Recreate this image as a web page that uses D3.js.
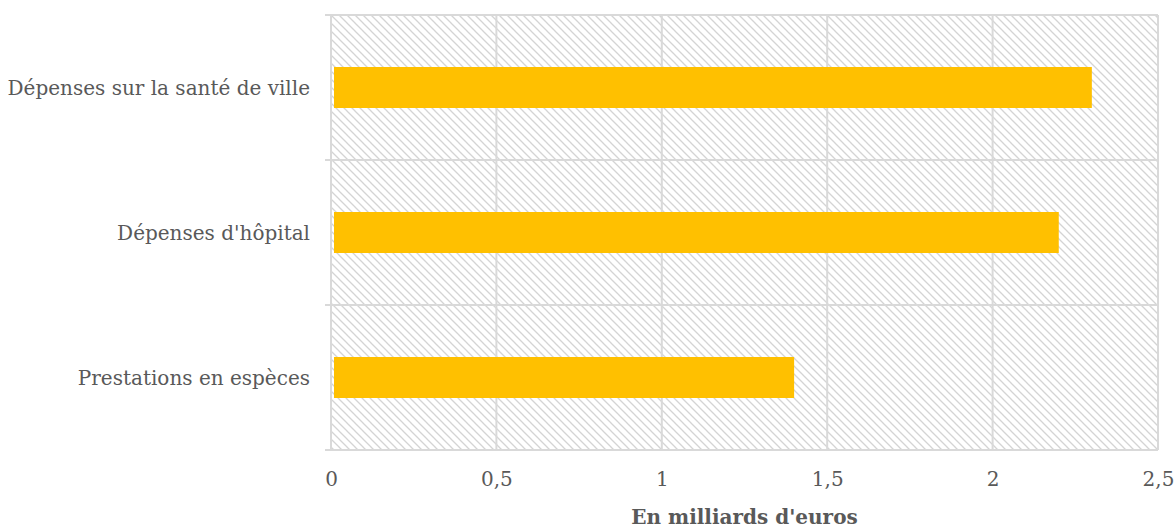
<!DOCTYPE html>
<html>
<head>
<meta charset="utf-8">
<script src="https://cdn.jsdelivr.net/npm/d3@7"></script>
<style>
  html, body { margin: 0; padding: 0; background: #fff; }
  svg { display: block; }
  text { font-family: "DejaVu Serif", "Liberation Serif", serif; }
</style>
</head>
<body>
<svg id="chart" width="1176" height="528"></svg>
<script>
// Dépenses par poste, en milliards d'euros
const categories = ["Dépenses sur la santé de ville", "Dépenses d'hôpital", "Prestations en espèces"];
const values = [2.3, 2.2, 1.4];
const xTicks = [0, 0.5, 1, 1.5, 2, 2.5];
const xTitle = "En milliards d'euros";

const svg = d3.select("#chart");
const margin = { top: 15, right: 18, bottom: 78, left: 331 };
const W = 1176, H = 528;
const iw = W - margin.left - margin.right;
const ih = H - margin.top - margin.bottom;

const fmt = d => String(d).replace(".", ",");
const fontFam = '"DejaVu Serif", "Liberation Serif", serif';

// Hatched plot background
const defs = svg.append("defs");
const pat = defs.append("pattern")
  .attr("id", "hatch")
  .attr("patternUnits", "userSpaceOnUse")
  .attr("width", 8).attr("height", 8);
pat.append("rect").attr("width", 8).attr("height", 8).attr("fill", "#fff");
pat.append("path")
  .attr("d", "M-2,-2 L10,10 M-2,6 L2,10 M6,-2 L10,2")
  .attr("stroke", "#d4d4d4").attr("stroke-width", 1.3);

const g = svg.append("g").attr("transform", `translate(${margin.left},${margin.top})`);

const x = d3.scaleLinear().domain([0, 2.5]).range([0, iw]);
const y = d3.scaleBand().domain(categories).range([0, ih]).paddingInner(0).paddingOuter(0);

g.append("rect").attr("width", iw).attr("height", ih).attr("fill", "url(#hatch)");

const gridColor = "#d9d9d9";

// Vertical gridlines
g.append("g").selectAll("line").data(xTicks).join("line")
  .attr("x1", d => x(d)).attr("x2", d => x(d))
  .attr("y1", 0).attr("y2", ih)
  .attr("stroke", gridColor).attr("stroke-width", 2);

// Category separators, extended outward as ticks
const bounds = categories.map(c => y(c)).concat([ih]);
g.append("g").selectAll("line").data(bounds).join("line")
  .attr("x1", -6).attr("x2", iw)
  .attr("y1", d => d).attr("y2", d => d)
  .attr("stroke", gridColor).attr("stroke-width", 2);

// Bars
const barH = 41;
g.append("g").selectAll("rect").data(categories).join("rect")
  .attr("x", x(0) + 3)
  .attr("y", (d) => y(d) + y.bandwidth() / 2 - barH / 2)
  .attr("width", (d, i) => x(values[i]) - x(0) - 3)
  .attr("height", barH)
  .attr("fill", "#ffc000");

// Category labels
g.append("g").selectAll("text").data(categories).join("text")
  .attr("x", -21)
  .attr("y", d => y(d) + y.bandwidth() / 2)
  .attr("dy", "0.35em")
  .attr("text-anchor", "end")
  .attr("font-size", 20)
  .attr("fill", "#595959")
  .text(d => d);

// X axis
const xAxis = d3.axisBottom(x).tickValues(xTicks).tickFormat(fmt).tickSize(0).tickPadding(22);
const ax = g.append("g").attr("transform", `translate(0,${ih})`).call(xAxis);
ax.select(".domain").remove();
ax.selectAll("text")
  .attr("font-size", 20)
  .attr("fill", "#595959")
  .style("font-family", fontFam);

// Axis title
svg.append("text")
  .attr("x", margin.left + iw / 2)
  .attr("y", 524)
  .attr("text-anchor", "middle")
  .attr("font-size", 20)
  .attr("font-weight", "bold")
  .attr("fill", "#595959")
  .text(xTitle);
</script>
</body>
</html>
